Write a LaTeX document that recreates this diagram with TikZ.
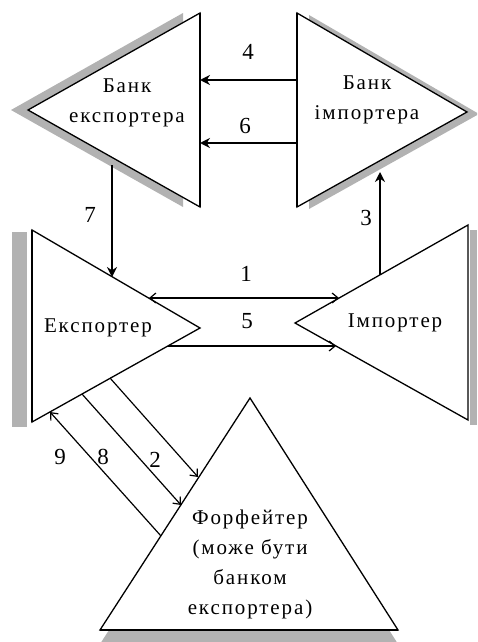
\documentclass[tikz,border=0pt]{standalone}
\usepackage{fontspec}
\setmainfont{Liberation Serif}[LetterSpace=9]
\usepackage{tikz}
\usetikzlibrary{arrows.meta}
\tikzset{
  tri/.style    = {draw, fill=white, line width=1.3pt, line join=miter},
  edge/.style   = {line width=2.6pt},
  shade/.style  = {fill=black!30, draw=none},
  lbl/.style    = {font=\fontsize{21}{30}\selectfont, align=center, inner sep=0pt},
  num/.style    = {font=\fontsize{23}{24}\selectfont, inner sep=0pt},
  arrow/.style  = {line width=2.4pt, -{Stealth[length=10pt, width=10pt]}},
  tarrow/.style = {line width=1.2pt, -{Straight Barb[length=6pt, width=10pt]}},
  darrow/.style = {line width=1.2pt, {Straight Barb[length=6pt, width=10pt]}-{Straight Barb[length=6pt, width=10pt]}},
}

\begin{document}
\begin{tikzpicture}[x=1pt, y=-1pt]

    \useasboundingbox (0,0) rectangle (477,642);
    \clip (0,0) rectangle (477,642);

    %% Shadows
    \fill[shade] (11,110) -- (183,13) -- (183,207) -- cycle;
    \fill[shade] (309,15) -- (309,209) -- (479,114) -- cycle;
    \fill[shade] (12,232) rectangle (27,427);
    \fill[shade] (470,230) rectangle (477,425);
    \fill[shade] (250,412) -- (100,644) -- (398,644) -- cycle;

    %% Triangles
    \draw[tri] (28,110) -- (200,13) -- (200,207) -- cycle;
    \draw[edge] (200,13) -- (200,207);
    \draw[tri] (297,13) -- (467,112) -- (297,207) -- cycle;
    \draw[edge] (297,13) -- (297,207);
    \draw[tri] (32,230) -- (200,328) -- (32,422) -- cycle;
    \draw[edge] (32,230) -- (32,422);
    \draw[tri] (468,225) -- (295,323) -- (468,420) -- cycle;
    \draw[tri] (250,398) -- (100,630) -- (398,630) -- cycle;
    \draw[line width=2pt] (100,630) -- (398,630);

    %% Texts
    \node[lbl] (bexp) at (127,103) {Банк\\експортера};
    \node[lbl] (bimp) at (367,100) {Банк\\імпортера};
    \node[lbl] (exp)  at (98,328)  {Експортер};
    \node[lbl] (imp)  at (395,323) {Імпортер};
    \node[lbl] (forf) at (250,564) {Форфейтер\\(може бути\\банком\\експортера)};

    %% Connector ends
    \coordinate (p4a) at (297,80);   \coordinate (p4b) at (200,80);
    \coordinate (p6a) at (297,143);  \coordinate (p6b) at (200,143);
    \coordinate (p7a) at (112,165);  \coordinate (p7b) at (112,277);
    \coordinate (p3a) at (380,275);  \coordinate (p3b) at (380,172);
    \coordinate (p1a) at (149,298);  \coordinate (p1b) at (339,298);
    \coordinate (p5a) at (168,346);  \coordinate (p5b) at (336,346);
    \coordinate (p2a) at (110,378);  \coordinate (p2b) at (198,477);
    \coordinate (p8a) at (82,394);   \coordinate (p8b) at (181,505);
    \coordinate (p9a) at (161,536);  \coordinate (p9b) at (50,412);

    \draw[arrow]  (p4a) -- (p4b);
    \draw[arrow]  (p6a) -- (p6b);
    \draw[arrow]  (p7a) -- (p7b);
    \draw[arrow]  (p3a) -- (p3b);
    \draw[darrow] (p1a) -- (p1b);
    \draw[tarrow] (p5a) -- (p5b);
    \draw[tarrow] (p2a) -- (p2b);
    \draw[tarrow] (p8a) -- (p8b);
    \draw[tarrow] (p9a) -- (p9b);

    %% Numbers
    \node[num] (n4) at (248,52)  {4};
    \node[num] (n6) at (245,126) {6};
    \node[num] (n7) at (90,215)  {7};
    \node[num] (n3) at (366,218) {3};
    \node[num] (n1) at (246,274) {1};
    \node[num] (n5) at (247,321) {5};
    \node[num] (n9) at (60,457)  {9};
    \node[num] (n8) at (103,457) {8};
    \node[num] (n2) at (155,460) {2};

\end{tikzpicture}
\end{document}
